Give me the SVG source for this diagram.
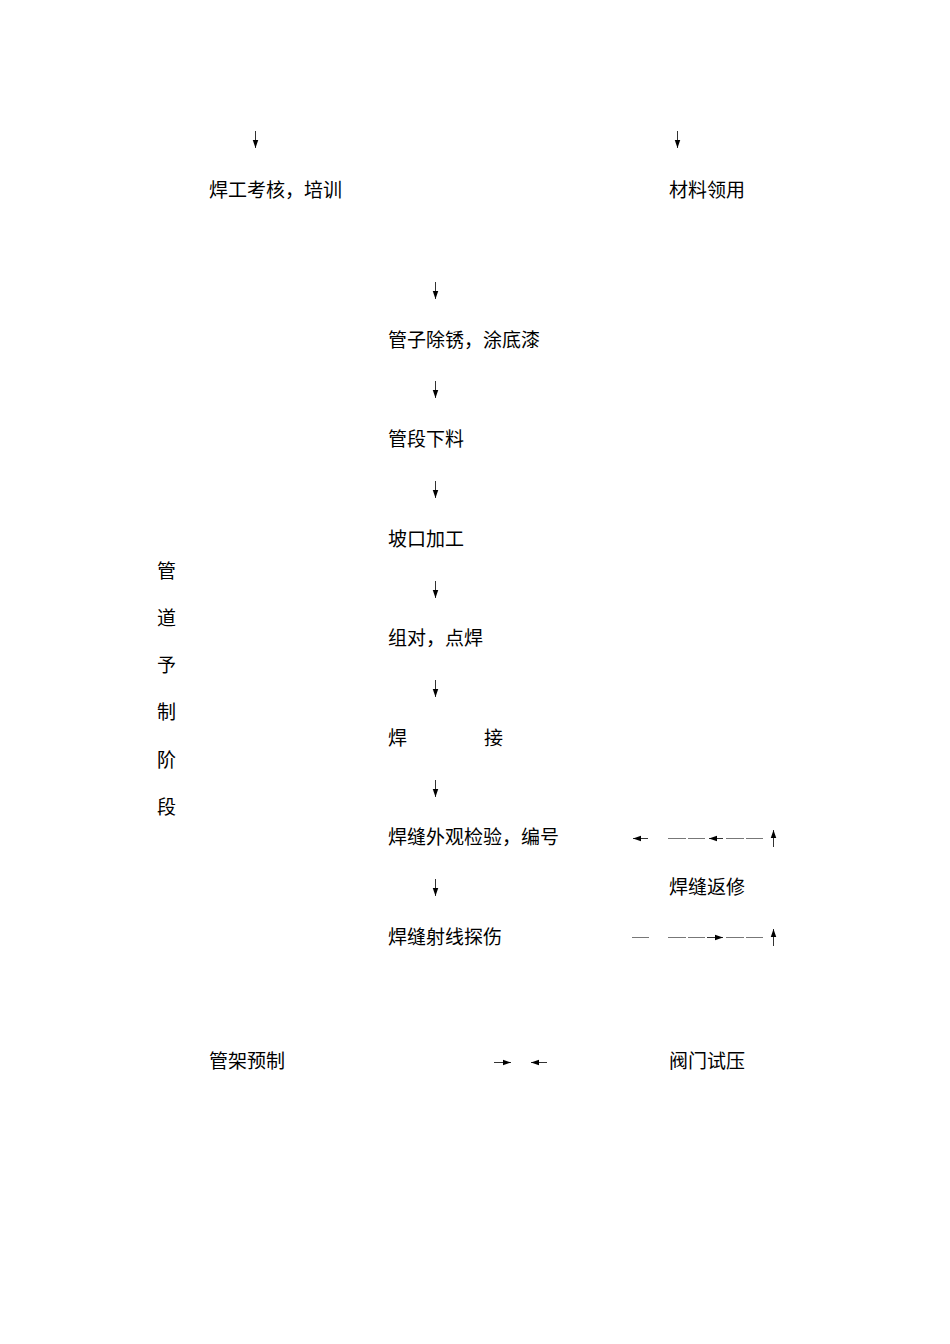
<svg xmlns="http://www.w3.org/2000/svg" width="950" height="1344" viewBox="0 0 950 1344">
<style>
.t{font-family:"Noto Sans CJK SC","Noto Sans CJK JP",sans-serif;font-size:19px;fill:#000}
.ar{stroke:#333;stroke-width:1;fill:none;marker-end:url(#head)}
.d{stroke:#777;stroke-width:1;fill:none}
</style>
<defs>
<marker id="head" markerUnits="userSpaceOnUse" markerWidth="8" markerHeight="8" viewBox="0 0 7 6" refX="7" refY="3" orient="auto">
<path d="M0,0.6 L7,3 L0,5.4 Z" fill="#000"/>
</marker>
</defs>
<rect width="950" height="1344" fill="#fff"/>
<g id="connectors">
<line class="ar" x1="255.5" y1="131" x2="255.5" y2="148"/>
<line class="ar" x1="677.5" y1="131" x2="677.5" y2="148"/>
<line class="ar" x1="435.5" y1="282" x2="435.5" y2="299"/>
<line class="ar" x1="435.5" y1="381" x2="435.5" y2="398"/>
<line class="ar" x1="435.5" y1="481" x2="435.5" y2="498"/>
<line class="ar" x1="435.5" y1="581" x2="435.5" y2="598"/>
<line class="ar" x1="435.5" y1="680" x2="435.5" y2="697"/>
<line class="ar" x1="435.5" y1="780" x2="435.5" y2="797"/>
<line class="ar" x1="435.5" y1="879" x2="435.5" y2="896"/>
<line class="ar" x1="648" y1="838.5" x2="633" y2="838.5"/>
<line class="d" x1="668" y1="838.5" x2="686" y2="838.5"/>
<line class="d" x1="688" y1="838.5" x2="705" y2="838.5"/>
<line class="ar" x1="723" y1="838.5" x2="709" y2="838.5"/>
<line class="d" x1="726" y1="838.5" x2="744" y2="838.5"/>
<line class="d" x1="746" y1="838.5" x2="763" y2="838.5"/>
<line class="ar" x1="773.5" y1="847" x2="773.5" y2="830"/>
<line class="d" x1="632" y1="937.5" x2="649" y2="937.5"/>
<line class="d" x1="668" y1="937.5" x2="686" y2="937.5"/>
<line class="d" x1="688" y1="937.5" x2="705" y2="937.5"/>
<line class="ar" x1="707" y1="937.5" x2="723" y2="937.5"/>
<line class="d" x1="726" y1="937.5" x2="744" y2="937.5"/>
<line class="d" x1="746" y1="937.5" x2="763" y2="937.5"/>
<line class="ar" x1="773.5" y1="946" x2="773.5" y2="929"/>
<line class="ar" x1="494" y1="1062.5" x2="511" y2="1062.5"/>
<line class="ar" x1="547" y1="1062.5" x2="531" y2="1062.5"/>
</g>
<g id="n1"><text class="t" x="209" y="197">焊工考核，培训</text></g>
<g id="n2"><text class="t" x="669" y="197">材料领用</text></g>
<g id="n3"><text class="t" x="388" y="347">管子除锈，涂底漆</text></g>
<g id="n4"><text class="t" x="388" y="446">管段下料</text></g>
<g id="n5"><text class="t" x="388" y="546">坡口加工</text></g>
<g id="n6"><text class="t" x="388" y="645">组对，点焊</text></g>
<g id="n7"><text class="t" x="388" y="745">焊</text><text class="t" x="484" y="745">接</text></g>
<g id="n8"><text class="t" x="388" y="844">焊缝外观检验，编号</text></g>
<g id="n9"><text class="t" x="669" y="894">焊缝返修</text></g>
<g id="n10"><text class="t" x="388" y="944">焊缝射线探伤</text></g>
<g id="n11">
<text class="t" x="157" y="578">管</text>
<text class="t" x="157" y="625">道</text>
<text class="t" x="157" y="672">予</text>
<text class="t" x="157" y="719">制</text>
<text class="t" x="157" y="767">阶</text>
<text class="t" x="157" y="814">段</text>
</g>
<g id="n12"><text class="t" x="209" y="1068">管架预制</text></g>
<g id="n13"><text class="t" x="669" y="1068">阀门试压</text></g>
</svg>
